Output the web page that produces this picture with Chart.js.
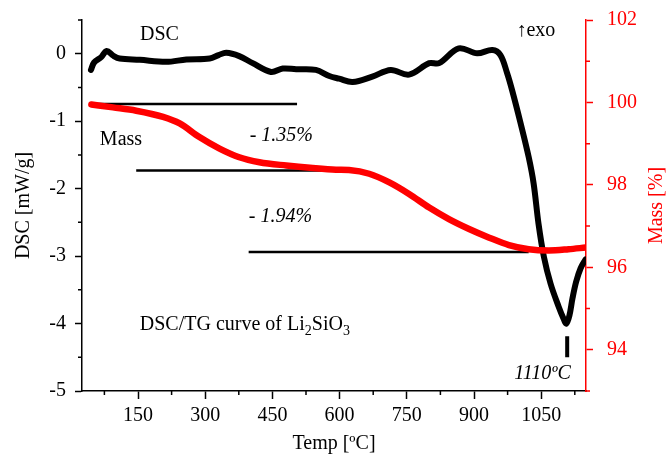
<!DOCTYPE html>
<html>
<head>
<meta charset="utf-8">
<script src="https://cdn.jsdelivr.net/npm/chart.js@4"></script>
<style>
  html, body { margin: 0; padding: 0; background: #fff; }
</style>
</head>
<body>
<canvas id="chart" width="667" height="456"></canvas>
<script>
// DSC curve (black)
const dscTemp  = [45, 52, 68, 80, 95, 109, 154, 213, 258, 310, 330, 347, 376, 406, 447, 473, 503, 547, 577, 599, 629, 673, 714, 755, 800, 822, 866, 907, 941, 959, 974, 985, 1004, 1022, 1033, 1044, 1056, 1071, 1089, 1100, 1106, 1113, 1120, 1128, 1138, 1149];
const dscValue = [-0.24, -0.13, -0.05, 0.04, -0.03, -0.07, -0.09, -0.12, -0.085, -0.07, -0.02, 0.015, -0.035, -0.14, -0.27, -0.22, -0.23, -0.24, -0.33, -0.37, -0.42, -0.34, -0.24, -0.31, -0.14, -0.14, 0.08, 0.006, 0.055, -0.02, -0.29, -0.54, -1.03, -1.53, -1.92, -2.52, -3.01, -3.41, -3.75, -3.93, -4.0, -3.88, -3.62, -3.38, -3.18, -3.05];

// TG curve (red), mass in %
const massTemp  = [46, 94, 146, 206, 243, 287, 332, 376, 421, 481, 540, 592, 621, 666, 711, 755, 800, 844, 889, 934, 978, 1022, 1067, 1111, 1149];
const massValue = [99.95, 99.88, 99.80, 99.65, 99.49, 99.16, 98.88, 98.67, 98.55, 98.47, 98.41, 98.37, 98.36, 98.27, 98.06, 97.78, 97.45, 97.17, 96.93, 96.72, 96.54, 96.44, 96.41, 96.44, 96.48];

// step lines for the mass losses: [tStart, tEnd, mass]
const stepLines = [[46, 505, 99.96], [146, 600, 98.35], [397, 1022, 96.37]];
// peak marker at 1110 °C
const peakTemp = 1108;
const peakMark = [-4.19, -4.5];

const xTicks = [150, 300, 450, 600, 750, 900, 1050];
const xMinor = [75, 225, 375, 525, 675, 825, 975, 1125];
const dscTicks = [-5, -4, -3, -2, -1, 0];
const dscMinor = [-4.5, -3.5, -2.5, -1.5, -0.5, 0.5];
const massTicks = [94, 96, 98, 100, 102];
const massMinor = [93, 95, 97, 99, 101];

const RED = '#ff0000';
const SERIF = '"Liberation Serif", "Times New Roman", serif';

const pts = (xs, ys) => xs.map((x, i) => ({ x: x, y: ys[i] }));

const datasets = [{
    label: 'Mass',
    data: pts(massTemp, massValue),
    yAxisID: 'y2',
    borderColor: RED,
    borderWidth: 6.5,
    cubicInterpolationMode: 'monotone',
    borderCapStyle: 'round',
    pointRadius: 0
}];
stepLines.forEach(l => {
    datasets.push({
        data: [{ x: l[0], y: l[2] }, { x: l[1], y: l[2] }],
        yAxisID: 'y2',
        borderColor: '#000',
        borderWidth: 2.5,
        pointRadius: 0
    });
});
datasets.push({
    label: 'DSC',
    data: pts(dscTemp, dscValue),
    yAxisID: 'y',
    borderColor: '#000',
    borderWidth: 6,
    tension: 0.35,
    borderCapStyle: 'round',
    borderJoinStyle: 'round',
    pointRadius: 0
});
datasets.push({
    data: [{ x: peakTemp, y: peakMark[0] }, { x: peakTemp, y: peakMark[1] }],
    yAxisID: 'y',
    borderColor: '#000',
    borderWidth: 4,
    pointRadius: 0
});

// texts in data coordinates (x = temp, y = DSC)
const notes = [
    { text: 'DSC', x: 198, y: 0.28, italic: false },
    { text: '\u2191exo', x: 1038, y: 0.34, italic: false },
    { text: 'Mass', x: 112, y: -1.27, italic: false },
    { text: '- 1.35%', x: 470, y: -1.22, italic: true },
    { text: '- 1.94%', x: 468, y: -2.42, italic: true },
    { text: '1110\u00baC', x: 1053, y: -4.75, italic: true }
];

const minorTicks = {
    id: 'minorTicks',
    afterDraw(chart) {
        const ctx = chart.ctx;
        const sx = chart.scales.x, sy = chart.scales.y, s2 = chart.scales.y2;
        const a = chart.chartArea;
        ctx.save();
        ctx.lineWidth = 1.5;
        ctx.strokeStyle = '#000';
        ctx.beginPath();
        xMinor.forEach(v => {
            const px = sx.getPixelForValue(v);
            ctx.moveTo(px, a.bottom); ctx.lineTo(px, a.bottom + 4);
        });
        dscMinor.forEach(v => {
            const py = sy.getPixelForValue(v);
            ctx.moveTo(a.left, py); ctx.lineTo(a.left - 4, py);
        });
        ctx.stroke();
        ctx.strokeStyle = RED;
        ctx.beginPath();
        massMinor.forEach(v => {
            const py = s2.getPixelForValue(v);
            ctx.moveTo(a.right, py); ctx.lineTo(a.right + 4, py);
        });
        ctx.stroke();

        // right axis title, reading upwards
        ctx.save();
        ctx.translate(657, (a.top + a.bottom) / 2);
        ctx.rotate(-Math.PI / 2);
        ctx.fillStyle = RED;
        ctx.font = '20px ' + SERIF;
        ctx.textAlign = 'center';
        ctx.textBaseline = 'middle';
        ctx.fillText('Mass [%]', 0, 0);
        ctx.restore();

        // annotations
        ctx.fillStyle = '#000';
        ctx.textBaseline = 'middle';
        ctx.textAlign = 'center';
        notes.forEach(n => {
            ctx.font = (n.italic ? 'italic ' : '') + '20px ' + SERIF;
            ctx.fillText(n.text, sx.getPixelForValue(n.x), sy.getPixelForValue(n.y));
        });

        // DSC/TG curve of Li2SiO3 with subscripts
        ctx.textAlign = 'left';
        ctx.textBaseline = 'alphabetic';
        let px = sx.getPixelForValue(154);
        const base = sy.getPixelForValue(-4.1);
        const parts = [['DSC/TG curve of Li', false], ['2', true], ['SiO', false], ['3', true]];
        parts.forEach(p => {
            ctx.font = (p[1] ? '14px ' : '20px ') + SERIF;
            ctx.fillText(p[0], px, base + (p[1] ? 5 : 0));
            px += ctx.measureText(p[0]).width;
        });
        ctx.restore();
    }
};

new Chart(document.getElementById('chart'), {
    type: 'line',
    data: { datasets: datasets },
    plugins: [minorTicks],
    options: {
        responsive: false,
        animation: false,
        devicePixelRatio: 1,
        layout: { padding: { top: 20 } },
        plugins: { legend: { display: false }, tooltip: { enabled: false } },
        scales: {
            x: {
                type: 'linear',
                position: 'bottom',
                min: 25,
                max: 1150,
                afterBuildTicks: s => { s.ticks = xTicks.map(v => ({ value: v })); },
                afterFit: s => { s.height = 65; s.paddingLeft = 0; s.paddingRight = 0; },
                grid: { drawOnChartArea: false, tickLength: 8, tickColor: '#000', tickWidth: 1.5 },
                border: { color: '#000', width: 1.5 },
                ticks: { color: '#000', font: { family: SERIF, size: 20 }, padding: 5, maxRotation: 0, callback: v => String(v) },
                title: { display: true, text: 'Temp [\u00baC]', color: '#000', font: { family: SERIF, size: 20 }, padding: { top: 0, bottom: 0 } }
            },
            y: {
                position: 'left',
                min: -5,
                max: 0.5,
                afterBuildTicks: s => { s.ticks = dscTicks.map(v => ({ value: v })); },
                afterFit: s => { s.width = 82; s.paddingTop = 0; s.paddingBottom = 0; },
                grid: { drawOnChartArea: false, tickLength: 7, tickColor: '#000', tickWidth: 1.5 },
                border: { color: '#000', width: 1.5 },
                ticks: { color: '#000', font: { family: SERIF, size: 20 }, padding: 9, callback: v => String(v) },
                title: { display: true, text: 'DSC [mW/g]', color: '#000', font: { family: SERIF, size: 20 }, padding: { top: 12 } }
            },
            y2: {
                position: 'right',
                min: 93,
                max: 102,
                afterBuildTicks: s => { s.ticks = massTicks.map(v => ({ value: v })); },
                afterFit: s => { s.width = 81; s.paddingTop = 0; s.paddingBottom = 0; },
                grid: { drawOnChartArea: false, tickLength: 7, tickColor: RED, tickWidth: 1.5 },
                border: { color: RED, width: 1.5 },
                ticks: { color: RED, font: { family: SERIF, size: 20 }, padding: 14, callback: v => String(v) },
                title: { display: false }
            }
        }
    }
});
</script>
</body>
</html>
